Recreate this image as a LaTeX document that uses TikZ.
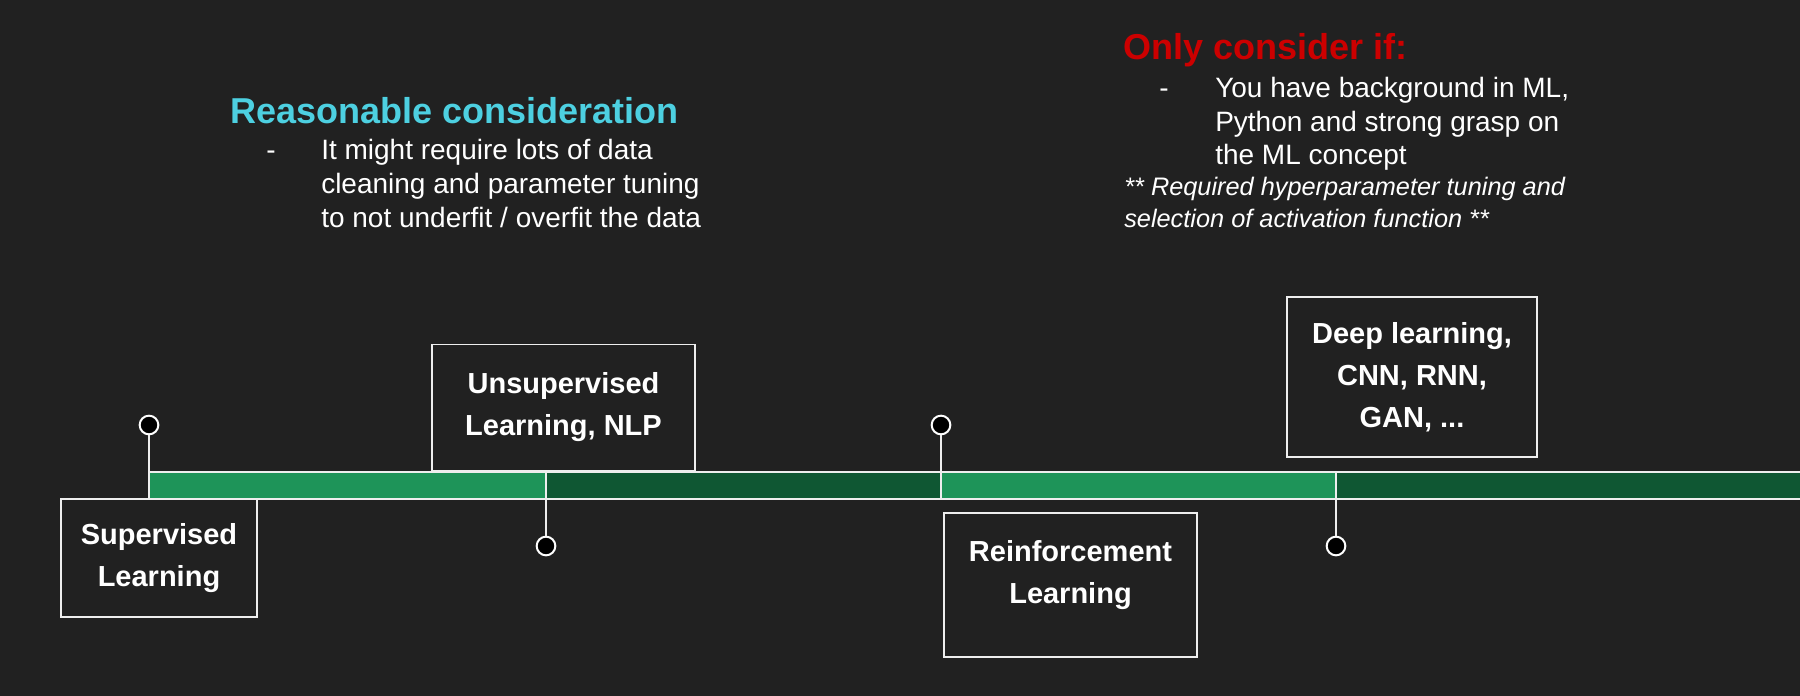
\documentclass[tikz,border=0pt]{standalone}
\usepackage{fontspec}
\setmainfont{Liberation Sans}
\definecolor{bgdark}{HTML}{212121}
\definecolor{greenlight}{HTML}{1E9459}
\definecolor{greendark}{HTML}{0F5733}
\definecolor{headcyan}{HTML}{4DD0E1}
\definecolor{headred}{HTML}{CC0000}
\definecolor{frame}{HTML}{EEEEEE}
\begin{document}
\begin{tikzpicture}[x=0.75pt,y=-0.75pt,
  stagebox/.style={draw=frame, line width=1.3pt, inner sep=0pt},
  stagetext/.style={text=white, align=center, inner sep=0pt,
    font=\bfseries\fontsize{21.75}{31.5}\selectfont},
  bodyline/.style={text=white, anchor=base west, inner sep=0pt,
    font=\fontsize{21}{25.5}\selectfont},
  noteline/.style={text=white, anchor=base west, inner sep=0pt,
    font=\itshape\fontsize{19}{24}\selectfont},
  headline/.style={anchor=base west, inner sep=0pt,
    font=\bfseries\fontsize{27}{30}\selectfont},
  milestone/.style={circle, fill=black, draw=white, line width=1.5pt,
    minimum size=14pt, inner sep=0pt},
  tick/.style={draw=frame, line width=1.1pt},
  barline/.style={draw=frame, line width=1.3pt}]

% canvas
\fill[bgdark] (0,0) rectangle (1800,696);
\useasboundingbox (0,0) rectangle (1800,696);

% timeline bar
\fill[greenlight] (149,472) rectangle (546,499);
\fill[greendark]  (546,472) rectangle (941,499);
\fill[greenlight] (941,472) rectangle (1336,499);
\fill[greendark]  (1336,472) rectangle (1802,499);
\draw[barline] (149,472) -- (1802,472);
\draw[barline] (149,499) -- (1802,499);

% tick anchors on the bar
\coordinate (t1) at (149,499);
\coordinate (t2) at (546,472);
\coordinate (t3) at (941,499);
\coordinate (t4) at (1336,472);

% milestone markers
\node[milestone] (c1) at (149,425) {};
\node[milestone] (c2) at (546,546) {};
\node[milestone] (c3) at (941,425) {};
\node[milestone] (c4) at (1336,546) {};
\draw[tick] (c1) -- (t1);
\draw[tick] (t2) -- (c2);
\draw[tick] (c3) -- (t3);
\draw[tick] (t4) -- (c4);

% stage boxes
\node[stagebox, minimum width=147pt, minimum height=88.5pt] (sup) at (159,558) {};
\node[stagetext] (suptext) at (sup.center) {Supervised\\Learning};

\node[stagebox, minimum width=197.25pt, minimum height=94.5pt] (unsup) at (563.5,407.5) {};
\node[stagetext] (unsuptext) at (unsup.center) {Unsupervised\\Learning, NLP};

\node[stagebox, minimum width=189.75pt, minimum height=108pt] (rl) at (1070.5,585) {};
\node[stagetext, yshift=7.5pt] (rltext) at (rl.center) {Reinforcement\\Learning};

\node[stagebox, minimum width=187.5pt, minimum height=120pt] (deep) at (1412,377) {};
\node[stagetext] (deeptext) at (deep.center) {Deep learning,\\CNN, RNN,\\GAN, ...};

% left annotation
\node[headline, text=headcyan] (reasonable) at (230,123) {Reasonable consideration};
\node[bodyline] (ldash) at (266,159) {-};
\node[bodyline] (l1) at (321,159) {It might require lots of data};
\node[bodyline] (l2) at (321,193) {cleaning and parameter tuning};
\node[bodyline] (l3) at (321,227) {to not underfit / overfit the data};

% right annotation
\node[headline, text=headred] (onlyif) at (1123,60) {Only consider if:};
\node[bodyline] (rdash) at (1159,97) {-};
\node[bodyline] (r1) at (1215,97) {You have background in ML,};
\node[bodyline] (r2) at (1215,131) {Python and strong grasp on};
\node[bodyline] (r3) at (1215,164) {the ML concept};
\node[noteline] (n1) at (1124,195) {** Required hyperparameter tuning and};
\node[noteline] (n2) at (1124,227) {selection of activation function **};

\end{tikzpicture}
\end{document}
